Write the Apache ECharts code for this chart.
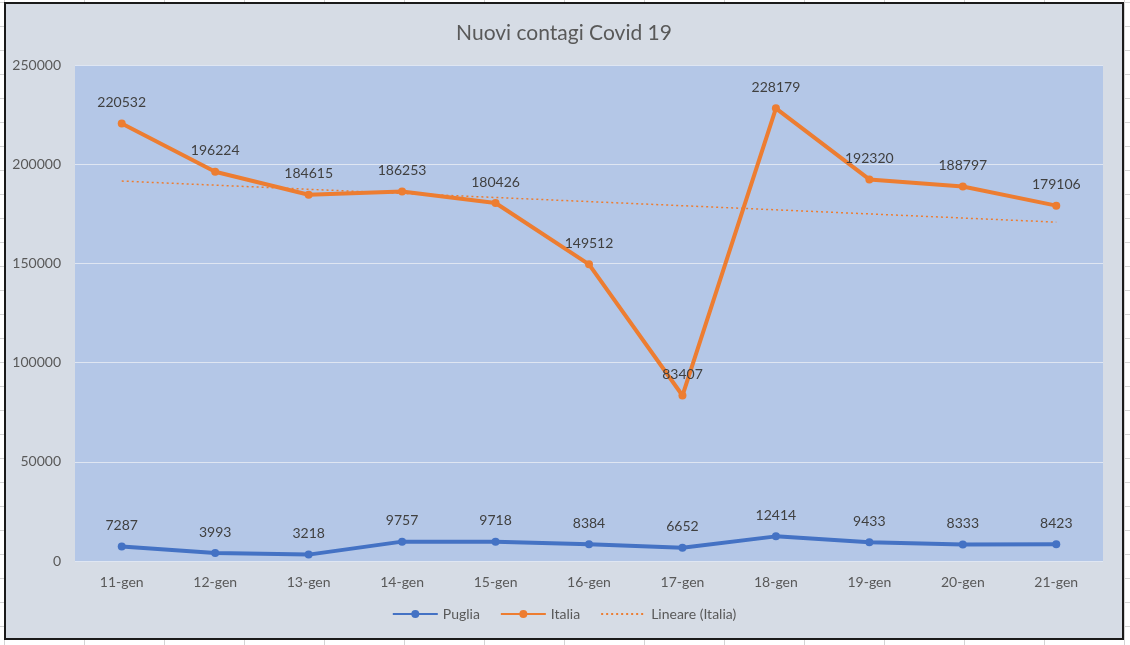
<!DOCTYPE html>
<html lang="it">
<head>
<meta charset="UTF-8">
<title>Nuovi contagi Covid 19</title>
<script src="https://cdn.jsdelivr.net/npm/echarts@6/dist/echarts.min.js"></script>
<style>
  html, body { margin: 0; padding: 0; }
  body {
    width: 1130px; height: 645px; overflow: hidden;
    background-color: #ffffff;
    background-image:
      linear-gradient(to right, #d4d4d4 1px, transparent 1px),
      linear-gradient(to bottom, #d4d4d4 1px, transparent 1px);
    background-size: 80px 24px;
    background-position: 4px 2px;
  }
  #main {
    position: absolute; left: 4px; top: 2px;
    width: 1116px; height: 634px;
    border: 2px solid #1a1a1a;
  }
</style>
</head>
<body>
<div id="main"></div>
<script>
var giorni = ['11-gen', '12-gen', '13-gen', '14-gen', '15-gen', '16-gen', '17-gen', '18-gen', '19-gen', '20-gen', '21-gen'];
var puglia = [7287, 3993, 3218, 9757, 9718, 8384, 6652, 12414, 9433, 8333, 8423];
var italia = [220532, 196224, 184615, 186253, 180426, 149512, 83407, 228179, 192320, 188797, 179106];
// tendenza lineare (Italia): estremi
var lineare = [191500, null, null, null, null, null, null, null, null, null, 170800];

var chart = echarts.init(document.getElementById('main'));
var font = 'Lato, "Liberation Sans", sans-serif';

var labelStyle = {
    show: true,
    position: 'top',
    distance: 10,
    color: '#404040',
    fontSize: 14,
    fontFamily: font
};

chart.setOption({
    backgroundColor: '#d6dce5',
    animation: false,
    textStyle: { fontFamily: font },
    title: {
        text: 'Nuovi contagi Covid 19',
        left: 'center',
        top: 14,
        textStyle: { color: '#595959', fontSize: 21, fontWeight: 'normal', fontFamily: font }
    },
    legend: {
        bottom: 12,
        left: 'center',
        itemWidth: 45,
        itemHeight: 10,
        itemGap: 20,
        textStyle: { color: '#595959', fontSize: 14, fontFamily: font },
        data: [
            'Puglia',
            'Italia',
            { name: 'Lineare (Italia)', itemStyle: { opacity: 0 } }
        ]
    },
    grid: {
        left: 69,
        right: 19,
        top: 61,
        bottom: 77,
        show: true,
        backgroundColor: '#b4c7e7',
        borderWidth: 0
    },
    xAxis: {
        type: 'category',
        data: giorni,
        boundaryGap: true,
        axisLine: { show: false },
        axisTick: { show: false },
        axisLabel: { color: '#595959', fontSize: 14, margin: 14, fontFamily: font }
    },
    yAxis: {
        type: 'value',
        min: 0,
        max: 250000,
        interval: 50000,
        axisLine: { show: false },
        axisTick: { show: false },
        axisLabel: {
            color: '#595959', fontSize: 14, margin: 14, fontFamily: font,
            formatter: function (v) { return String(v); }
        },
        splitLine: { lineStyle: { color: '#dfe6f2', width: 1 } }
    },
    series: [
        {
            name: 'Puglia',
            type: 'line',
            data: puglia,
            symbol: 'circle',
            symbolSize: 8,
            color: '#4472c4',
            lineStyle: { width: 4, color: '#4472c4' },
            label: labelStyle,
            z: 3
        },
        {
            name: 'Italia',
            type: 'line',
            data: italia,
            symbol: 'circle',
            symbolSize: 8,
            color: '#ed7d31',
            lineStyle: { width: 4, color: '#ed7d31' },
            label: labelStyle,
            z: 3
        },
        {
            name: 'Lineare (Italia)',
            type: 'line',
            data: lineare,
            connectNulls: true,
            symbol: 'none',
            color: '#ed7d31',
            lineStyle: { width: 1.5, type: [2, 3], color: '#ed7d31' },
            z: 2
        }
    ]
});
</script>
</body>
</html>
